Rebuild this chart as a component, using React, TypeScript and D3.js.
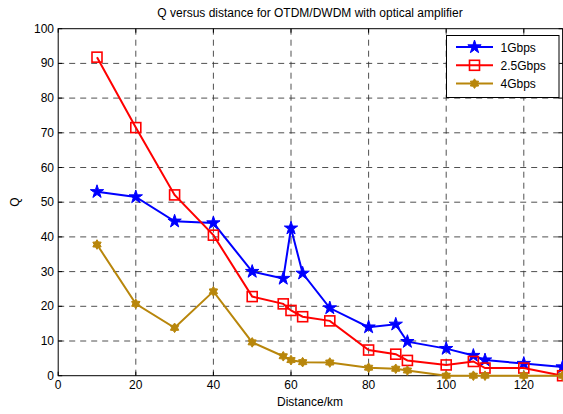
import React from "react";
import * as d3 from "d3";

// Distance (km) at which Q was evaluated
const distance = [10, 20, 30, 40, 50, 58, 60, 63, 70, 80, 87, 90, 100, 107, 110, 120, 130];

// Q factor for each bit rate
const q1G = [53, 51.5, 44.5, 44, 30, 28, 42.5, 29.5, 19.5, 14, 14.8, 9.8, 7.8, 5.8, 4.5, 3.5, 2.5];
const q25G = [91.8, 71.5, 52.1, 40.5, 22.8, 20.7, 18.8, 17, 15.8, 7.4, 6.2, 4.4, 3.1, 4.1, 2.2, 2.2, 0];
const q4G = [37.8, 20.7, 13.8, 24.3, 9.6, 5.6, 4.5, 3.9, 3.8, 2.3, 2.0, 1.5, 0, 0, 0, 0, 0];

const seriesNames = ["1Gbps", "2.5Gbps", "4Gbps"];
const xTicks = [0, 20, 40, 60, 80, 100, 120];
const yTicks = [0, 10, 20, 30, 40, 50, 60, 70, 80, 90, 100];

const W = 563;
const H = 414;
const FONT = "Liberation Sans, Arial, sans-serif";

const x = d3.scaleLinear().domain([0, 130]).range([58.2, 562.6]);
const y = d3.scaleLinear().domain([0, 100]).range([375.7, 28.7]);

const GOLD = "#b8860b";

function hexagram(r: number) {
  const pts: [number, number][] = [];
  for (let i = 0; i < 12; i++) {
    const a = (Math.PI / 6) * i - Math.PI / 2;
    const rr = i % 2 === 0 ? r : r * 0.62;
    pts.push([rr * Math.cos(a), rr * Math.sin(a)]);
  }
  return "M" + pts.map((p) => p.join(",")).join("L") + "Z";
}

const starPath = d3.symbol(d3.symbolStar, 55)() as string;
const hexPath = hexagram(4.8);

type Marker = "star" | "square" | "hex";

function MarkerShape({ kind, color, cx, cy }: { kind: Marker; color: string; cx: number; cy: number }) {
  if (kind === "star") {
    return <path d={starPath} transform={`translate(${cx},${cy})`} fill={color} stroke={color} strokeWidth={1} />;
  }
  if (kind === "square") {
    return <rect x={cx - 5} y={cy - 5} width={10} height={10} fill="none" stroke={color} strokeWidth={1.6} />;
  }
  return <path d={hexPath} transform={`translate(${cx},${cy})`} fill={color} stroke={color} strokeWidth={1} />;
}

const series: { name: string; values: number[]; color: string; marker: Marker }[] = [
  { name: seriesNames[0], values: q1G, color: "#0000ff", marker: "star" },
  { name: seriesNames[1], values: q25G, color: "#ff0000", marker: "square" },
  { name: seriesNames[2], values: q4G, color: GOLD, marker: "hex" },
];

export default function App() {
  const [x0, x1] = x.range();
  const [yb, yt] = y.range();
  const line = d3
    .line<number>()
    .x((_, i) => x(distance[i]))
    .y((v) => y(v));

  return (
    <svg
      width={W}
      height={H}
      style={{ position: "absolute", left: 0, top: 0, background: "#fff", display: "block" }}
      fontFamily={FONT}
    >
      <rect x={0} y={0} width={W} height={H} fill="#fff" />
      {/* grid */}
      {xTicks
        .filter((t) => t > 0)
        .map((t) => (
          <line key={"gx" + t} x1={x(t)} x2={x(t)} y1={yb} y2={yt} stroke="#333" strokeWidth={1} strokeDasharray="6,5" opacity={0.85} />
        ))}
      {yTicks
        .filter((t) => t > 0 && t < 100)
        .map((t) => (
          <line key={"gy" + t} x1={x0} x2={x1} y1={y(t)} y2={y(t)} stroke="#333" strokeWidth={1} strokeDasharray="6,5" opacity={0.85} />
        ))}
      {/* box */}
      <rect x={x0} y={yt} width={x1 - x0} height={yb - yt} fill="none" stroke="#000" strokeWidth={1} />
      {/* ticks */}
      {xTicks.map((t) => (
        <g key={"tx" + t}>
          <line x1={x(t)} x2={x(t)} y1={yb} y2={yb - 4} stroke="#000" />
          <line x1={x(t)} x2={x(t)} y1={yt} y2={yt + 4} stroke="#000" />
          <text x={x(t)} y={389} textAnchor="middle" fontSize={12} fill="#000">
            {t}
          </text>
        </g>
      ))}
      {yTicks.map((t) => (
        <g key={"ty" + t}>
          <line x1={x0} x2={x0 + 4} y1={y(t)} y2={y(t)} stroke="#000" />
          <line x1={x1} x2={x1 - 4} y1={y(t)} y2={y(t)} stroke="#000" />
          <text x={54} y={y(t) + 4} textAnchor="end" fontSize={12} fill="#000">
            {t}
          </text>
        </g>
      ))}
      {/* series */}
      {series.map((s) => (
        <g key={s.name}>
          <path d={line(s.values) as string} fill="none" stroke={s.color} strokeWidth={2} />
          {s.values.map((v, i) => (
            <MarkerShape key={i} kind={s.marker} color={s.color} cx={x(distance[i])} cy={y(v)} />
          ))}
        </g>
      ))}
      {/* title and axis labels */}
      <text x={310} y={17} textAnchor="middle" fontSize={12} fill="#000">
        Q versus distance for OTDM/DWDM with optical amplifier
      </text>
      <text x={310} y={406} textAnchor="middle" fontSize={12} fill="#000">
        Distance/km
      </text>
      <text transform="translate(19,202) rotate(-90)" textAnchor="middle" fontSize={12} fill="#000">
        Q
      </text>
      {/* legend */}
      <rect x={446.5} y={35.5} width={112.5} height={62} fill="#fff" stroke="#000" strokeWidth={1} />
      {series.map((s, i) => {
        const ly = 47 + i * 18.3;
        return (
          <g key={"lg" + s.name}>
            <line x1={456} x2={493} y1={ly} y2={ly} stroke={s.color} strokeWidth={2} />
            <MarkerShape kind={s.marker} color={s.color} cx={474.5} cy={ly} />
            <text x={500.5} y={ly + 4.5} fontSize={12} fill="#000">
              {s.name}
            </text>
          </g>
        );
      })}
    </svg>
  );
}
